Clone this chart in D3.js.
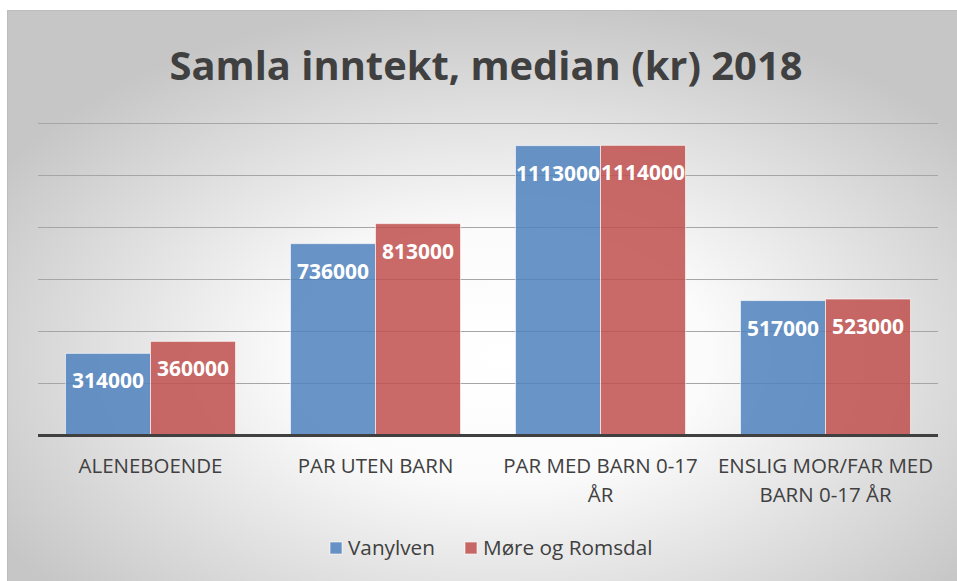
<!DOCTYPE html>
<html lang="no">
<head>
    <meta charset="UTF-8">
    <title>Samla inntekt, median (kr) 2018</title>
    <style>
        html, body { margin: 0; padding: 0; background: #fff; }
        body { font-family: "Open Sans", Arial, sans-serif; }
        svg { display: block; }
    </style>
</head>
<body>
    <div id="chart"></div>

    <script src="https://d3js.org/d3.v7.min.js"></script>
    <script>
        // data
        const categories = ["ALENEBOENDE", "PAR UTEN BARN", "PAR MED BARN 0-17 ÅR", "ENSLIG MOR/FAR MED BARN 0-17 ÅR"];
        const tickLines = [["ALENEBOENDE"], ["PAR UTEN BARN"], ["PAR MED BARN 0-17", "ÅR"], ["ENSLIG MOR/FAR MED", "BARN 0-17 ÅR"]];
        const seriesNames = ["Vanylven", "Møre og Romsdal"];
        const vanylven = [314000, 736000, 1113000, 517000];
        const moreRomsdal = [360000, 813000, 1114000, 523000];
        const gridTicks = [0, 200000, 400000, 600000, 800000, 1000000, 1200000];
        const colors = ["#4f81bd", "#c0504d"];

        const width = 957, height = 581;
        const svg = d3.select("#chart").append("svg")
            .attr("width", width)
            .attr("height", height);

        // background gradient like the office chart style
        const defs = svg.append("defs");
        const grad = defs.append("radialGradient")
            .attr("id", "bg")
            .attr("cx", "52%").attr("cy", "60%").attr("r", "62%");
        grad.append("stop").attr("offset", "0%").attr("stop-color", "#ffffff");
        grad.append("stop").attr("offset", "35%").attr("stop-color", "#fbfbfb");
        grad.append("stop").attr("offset", "100%").attr("stop-color", "#c6c6c6");

        svg.append("rect")
            .attr("x", 7.5).attr("y", 10.5)
            .attr("width", 952).attr("height", 575)
            .attr("fill", "url(#bg)")
            .attr("stroke", "#bdbdbd");

        // fit a text element to a width by changing its font size
        function fitSize(sel, target) {
            const s = parseFloat(sel.attr("font-size"));
            const len = sel.node().getComputedTextLength();
            return s * target / len;
        }

        const title = svg.append("text")
            .attr("x", 486).attr("y", 80)
            .attr("text-anchor", "middle")
            .attr("font-size", 40)
            .attr("font-weight", "bold")
            .attr("fill", "#404040")
            .text("Samla inntekt, median (kr) 2018");
        title.attr("font-size", fitSize(title, 633));

        const x = d3.scaleBand()
            .domain(categories)
            .range([38, 938])
            .paddingInner(0.2444)
            .paddingOuter(0.1222);

        const xs = d3.scaleBand()
            .domain(seriesNames)
            .range([0, x.bandwidth()]);

        const y = d3.scaleLinear()
            .domain([0, 1200000])
            .range([435, 123]);

        // gridlines
        svg.append("g")
            .selectAll("line")
            .data(gridTicks.slice(1))
            .enter().append("line")
            .attr("x1", 38).attr("x2", 938)
            .attr("y1", d => Math.round(y(d)) + 0.5)
            .attr("y2", d => Math.round(y(d)) + 0.5)
            .attr("stroke", "#a6a6a6")
            .attr("stroke-width", 1);

        const series = [vanylven, moreRomsdal];
        const rows = [];
        series.forEach((vals, si) => {
            vals.forEach((v, ci) => rows.push({ s: si, cat: categories[ci], v: v }));
        });

        svg.append("g")
            .selectAll("rect")
            .data(rows)
            .enter().append("rect")
            .attr("x", d => x(d.cat) + xs(seriesNames[d.s]))
            .attr("y", d => y(d.v))
            .attr("width", xs.bandwidth())
            .attr("height", d => y(0) - y(d.v))
            .attr("fill", d => colors[d.s])
            .attr("fill-opacity", 0.85)
            .attr("stroke", "#ffffff")
            .attr("stroke-opacity", 0.6)
            .attr("stroke-width", 1);

        // baseline
        svg.append("line")
            .attr("x1", 38).attr("x2", 938)
            .attr("y1", y(0) + 0.5).attr("y2", y(0) + 0.5)
            .attr("stroke", "#404040")
            .attr("stroke-width", 3);

        // value labels
        const probe = svg.append("text").attr("font-size", 20).attr("font-weight", "bold").text("314000");
        const valSize = fitSize(probe, 72);
        probe.remove();

        svg.append("g")
            .selectAll("text")
            .data(rows)
            .enter().append("text")
            .attr("x", d => x(d.cat) + xs(seriesNames[d.s]) + xs.bandwidth() / 2)
            .attr("y", d => y(d.v) + 35)
            .attr("text-anchor", "middle")
            .attr("font-size", valSize)
            .attr("font-weight", "bold")
            .attr("fill", "#ffffff")
            .text(d => d.v);

        // category labels
        const probe2 = svg.append("text").attr("font-size", 18).text("ALENEBOENDE");
        const catSize = fitSize(probe2, 144);
        probe2.remove();

        const cat = svg.append("g")
            .selectAll("text")
            .data(categories)
            .enter().append("text")
            .attr("x", d => x(d) + x.bandwidth() / 2)
            .attr("y", 473)
            .attr("text-anchor", "middle")
            .attr("font-size", catSize)
            .attr("fill", "#404040");
        cat.each(function (d, i) {
            const t = d3.select(this);
            tickLines[i].forEach((line, li) => {
                t.append("tspan")
                    .attr("x", x(d) + x.bandwidth() / 2)
                    .attr("dy", li === 0 ? 0 : 29)
                    .text(line);
            });
        });

        // legend
        const probe3 = svg.append("text").attr("font-size", 18).text("Vanylven");
        const legSize = fitSize(probe3, 87);
        probe3.remove();

        const legX = [330, 465];
        const legend = svg.append("g")
            .selectAll("g")
            .data(seriesNames)
            .enter().append("g")
            .attr("transform", (d, i) => `translate(${legX[i]},542)`);
        legend.append("rect")
            .attr("width", 12).attr("height", 12)
            .attr("fill", (d, i) => colors[i])
            .attr("fill-opacity", 0.85)
            .attr("stroke", "#ffffff")
            .attr("stroke-opacity", 0.6);
        legend.append("text")
            .attr("x", 18).attr("y", 13)
            .attr("font-size", legSize)
            .attr("fill", "#404040")
            .text(d => d);
    </script>
</body>
</html>
